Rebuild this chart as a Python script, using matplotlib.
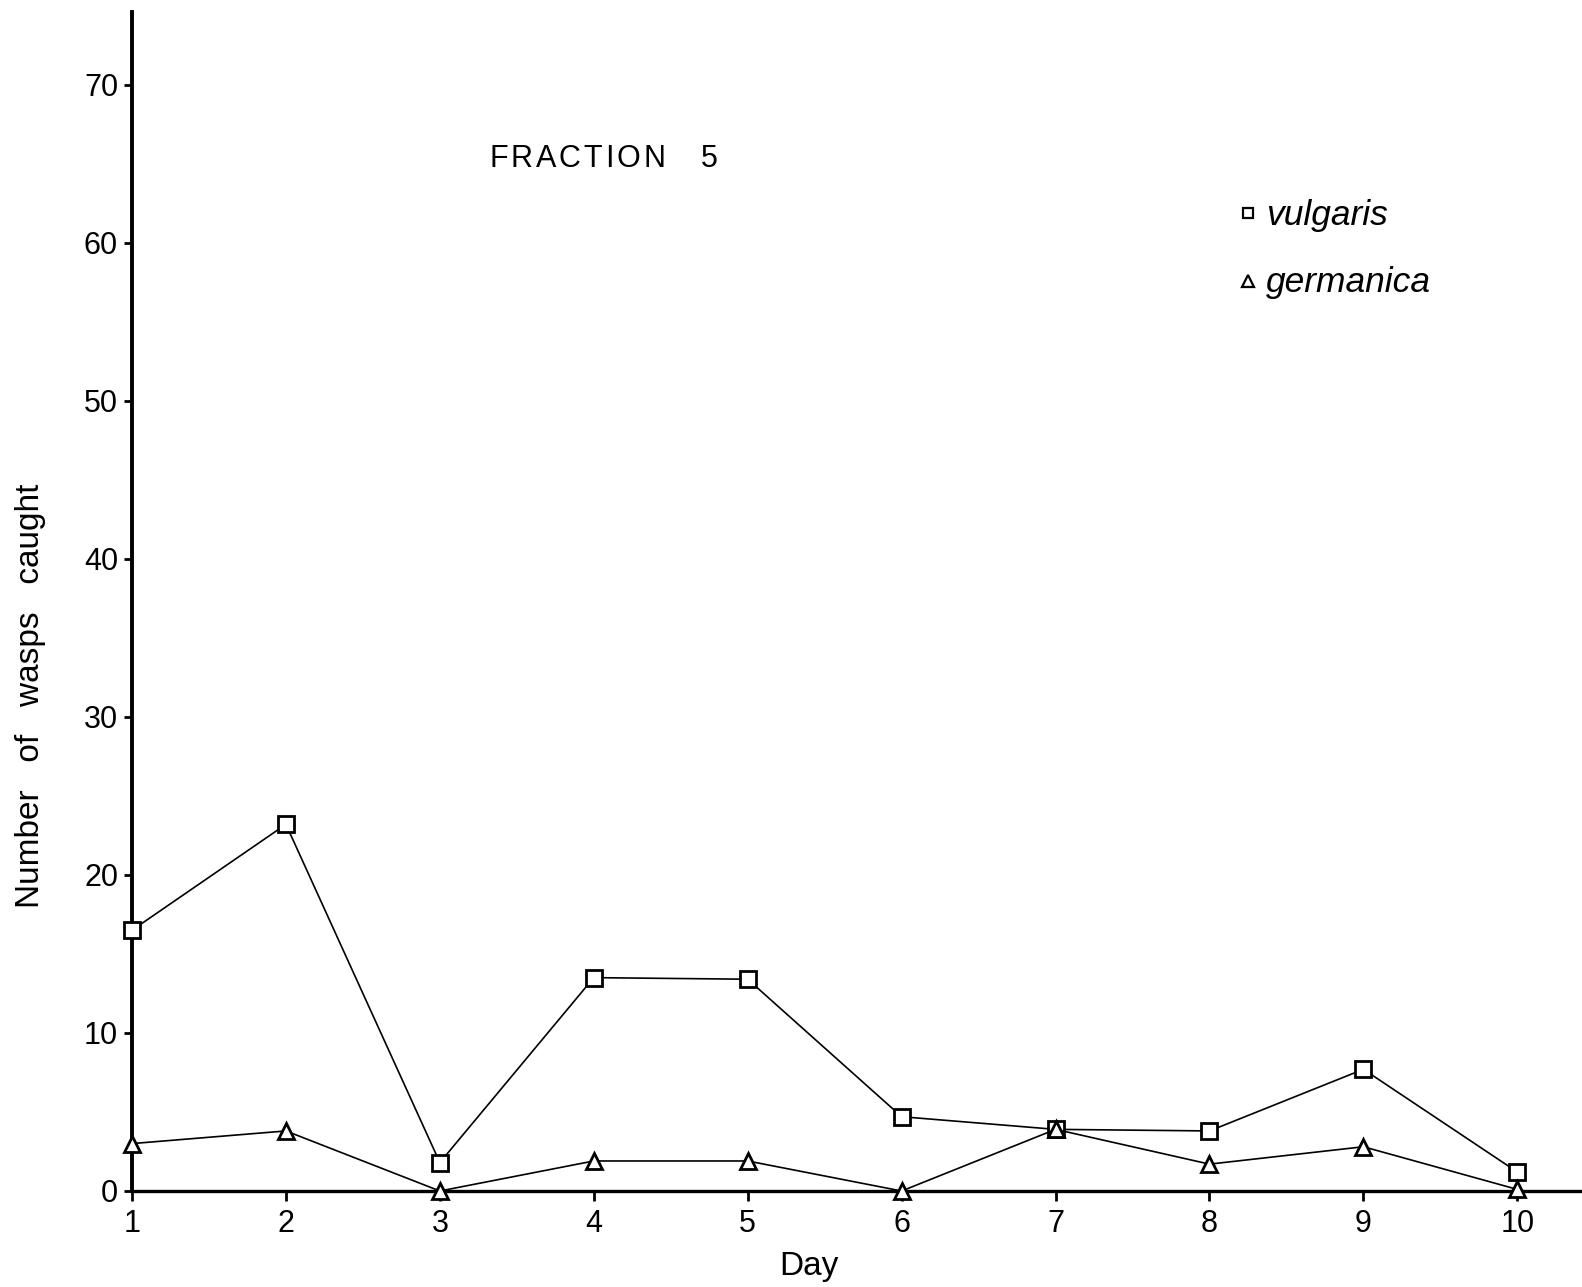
import matplotlib
matplotlib.use("Agg")
import matplotlib.pyplot as plt
from matplotlib.lines import Line2D

plt.rcParams['font.family'] = ['Liberation Sans', 'DejaVu Sans']

days = [1, 2, 3, 4, 5, 6, 7, 8, 9, 10]
vulgaris = [16.5, 23.2, 1.8, 13.5, 13.4, 4.7, 3.9, 3.8, 7.7, 1.2]
germanica = [3.0, 3.8, 0.0, 1.9, 1.9, 0.0, 3.9, 1.7, 2.8, 0.1]
yticks = [0, 10, 20, 30, 40, 50, 60, 70]
series_names = ['vulgaris', 'germanica']
series_markers = ['s', '^']

W, H = 1582, 1287
fig = plt.figure(figsize=(W / 100, H / 100), dpi=100)
left, right = 132 / W, 1.0
bottom, top = 1 - 1191 / H, 1 - 12 / H
ax = fig.add_axes([left, bottom, right - left, top - bottom])

line_style = dict(color='black', lw=1.2, mfc='white', mec='black', mew=2.0,
                  clip_on=False, zorder=3)
ax.plot(days, vulgaris, marker='s', ms=11.5, **line_style)
ax.plot(days, germanica, marker='^', ms=12.0, **line_style)

ax.set_xlim(1, 10.42)
ax.set_ylim(0, 74.6)
ax.set_xticks(days)
ax.set_yticks(yticks)
ax.tick_params(axis='both', labelsize=22, width=2, direction='out')
ax.tick_params(axis='y', length=6, pad=4)
ax.tick_params(axis='x', length=7, pad=6)

for side in ('top', 'right'):
    ax.spines[side].set_visible(False)
ax.spines['left'].set_linewidth(2.8)
ax.spines['bottom'].set_linewidth(2.4)

# axis titles
fig.text(809 / W, 1 - 1266 / H, 'Day', fontsize=24, ha='center', va='center')
fig.text(31 / W, 1 - 696 / H, 'Number   of   wasps   caught', fontsize=24,
         rotation=90, ha='center', va='center')

# panel title, drawn letter by letter with a little tracking
renderer = fig.canvas.get_renderer()
x_px = 489.0
y_fig = 1 - 159 / H
for ch, gap in zip('FRACTION5', [3, 3, 3, 3, 3, 3, 3, 35, 0]):
    t = fig.text(x_px / W, y_fig, ch, fontsize=22, ha='left', va='center')
    x_px += t.get_window_extent(renderer).width + gap

# key
key_rows = [(213, 225), (281, 292)]
for (my, by), name, mk in zip(key_rows, series_names, series_markers):
    fig.add_artist(Line2D([1248 / W], [1 - my / H], transform=fig.transFigure,
                          ls='none', marker=mk, ms=7.5 if mk == 's' else 8.5,
                          mfc='white', mec='black', mew=1.6))
    fig.text(1266 / W, 1 - by / H, name, fontsize=25.5, style='italic',
             ha='left', va='baseline')

fig.savefig('out.png', dpi=100, facecolor='white')
